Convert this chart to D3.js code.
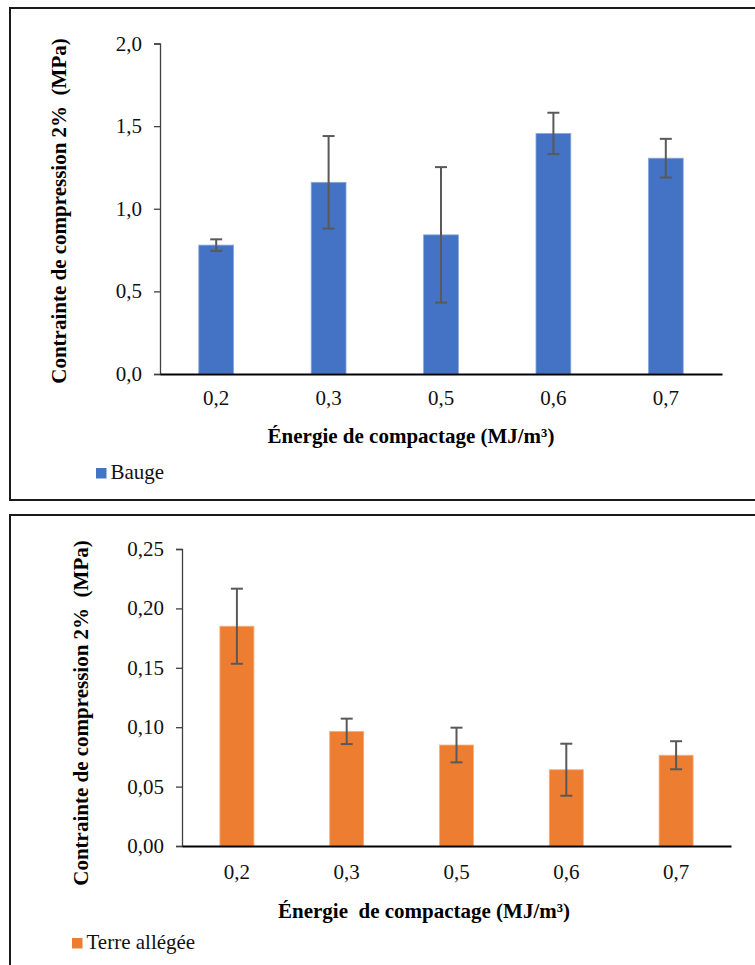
<!DOCTYPE html>
<html>
<head>
<meta charset="utf-8">
<script src="https://cdn.jsdelivr.net/npm/d3@7"></script>
<style>
  html, body { margin: 0; padding: 0; background: #fff; }
  svg { display: block; }
</style>
</head>
<body>
<svg id="chart" width="755" height="965"></svg>
<script>
// ---- Data ----
const categories = ["0,2", "0,3", "0,5", "0,6", "0,7"];
const baugeValues = [0.78, 1.16, 0.842, 1.456, 1.306];
const baugeErrors = [0.035, 0.28, 0.41, 0.125, 0.117];
const terreValues = [0.185, 0.0965, 0.085, 0.0642, 0.0764];
const terreErrors = [0.0316, 0.0107, 0.0146, 0.0219, 0.0118];
const baugeTicks = [0, 0.5, 1.0, 1.5, 2.0];
const terreTicks = [0, 0.05, 0.10, 0.15, 0.20, 0.25];
const yTitle = "Contrainte de compression 2%\u00A0 (MPa)";
const xTitleTop = "Énergie de compactage (MJ/m³)";
const xTitleBottom = "Énergie\u00A0 de compactage (MJ/m³)";

const FONT = "Liberation Serif";
const svg = d3.select("#chart");

function drawPanel(cfg) {
  // frame
  svg.append("rect")
    .attr("x", cfg.frame[0]).attr("y", cfg.frame[1])
    .attr("width", cfg.frame[2]).attr("height", cfg.frame[3])
    .attr("fill", "#fff").attr("stroke", "#1a1a1a").attr("stroke-width", 2);

  const x = d3.scaleBand().domain(categories)
    .range([cfg.left, cfg.right]).paddingInner(0.69).paddingOuter(0.345);
  const y = d3.scaleLinear().domain([0, cfg.ticks[cfg.ticks.length - 1]])
    .range([cfg.zero, cfg.top]);
  const fmt = d => d3.format(cfg.fmt)(d).replace(".", ",");

  // y axis (lines via d3 axis, labels as direct svg text)
  const ya = svg.append("g").attr("transform", `translate(${cfg.left},0)`)
    .call(d3.axisLeft(y).tickValues(cfg.ticks).tickSize(6).tickSizeOuter(6)
      .tickFormat(""));
  ya.select(".domain").attr("stroke", "#404040").attr("stroke-width", 1.3);
  ya.selectAll(".tick line").attr("stroke", "#404040").attr("stroke-width", 1.3);
  ya.selectAll(".tick text").remove();

  svg.selectAll(null).data(cfg.ticks).enter().append("text")
    .attr("x", cfg.left - 18)
    .attr("y", d => y(d) + 7)
    .attr("text-anchor", "end")
    .attr("font-family", FONT).attr("font-size", 21).attr("fill", "#111")
    .text(fmt);

  // bars
  svg.selectAll(null).data(cfg.values).enter().append("rect")
    .attr("x", (d, i) => x(categories[i]))
    .attr("width", x.bandwidth())
    .attr("y", d => y(d))
    .attr("height", d => y(0) - y(d))
    .attr("fill", cfg.color)
    .attr("stroke", cfg.edge).attr("stroke-width", 0.8);

  // error bars
  const cap = 6;
  const cx = i => x(categories[i]) + x.bandwidth() / 2;
  svg.selectAll(null).data(cfg.values).enter().append("line")
    .attr("stroke", "#595959").attr("stroke-width", 2)
    .attr("x1", (d, i) => cx(i)).attr("x2", (d, i) => cx(i))
    .attr("y1", (d, i) => y(d + cfg.errors[i]))
    .attr("y2", (d, i) => y(d - cfg.errors[i]));
  [1, -1].forEach(s => {
    svg.selectAll(null).data(cfg.values).enter().append("line")
      .attr("stroke", "#595959").attr("stroke-width", 2)
      .attr("x1", (d, i) => cx(i) - cap).attr("x2", (d, i) => cx(i) + cap)
      .attr("y1", (d, i) => y(d + s * cfg.errors[i]))
      .attr("y2", (d, i) => y(d + s * cfg.errors[i]));
  });

  // x axis line
  const xa = svg.append("g").attr("transform", `translate(0,${cfg.zero})`)
    .call(d3.axisBottom(x).tickSize(0).tickSizeOuter(0).tickFormat(""));
  xa.select(".domain").attr("stroke", "#000").attr("stroke-width", 2.2);
  xa.selectAll(".tick text").remove();

  svg.selectAll(null).data(categories).enter().append("text")
    .attr("x", d => x(d) + x.bandwidth() / 2)
    .attr("y", cfg.xLabelY)
    .attr("text-anchor", "middle")
    .attr("font-family", FONT).attr("font-size", 21).attr("fill", "#111")
    .text(d => d);

  // x title
  svg.append("text").attr("x", cfg.xTitlePos[0]).attr("y", cfg.xTitlePos[1])
    .attr("text-anchor", "middle").attr("font-size", 21).attr("font-weight", "bold")
    .attr("fill", "#000").attr("font-family", FONT)
    .text(cfg.xTitle);

  // y title
  svg.append("text")
    .attr("transform", `translate(${cfg.yTitlePos[0]},${cfg.yTitlePos[1]}) rotate(-90)`)
    .attr("text-anchor", "middle").attr("font-size", 21).attr("font-weight", "bold")
    .attr("fill", "#000").attr("font-family", FONT)
    .text(yTitle);

  // legend
  svg.append("rect").attr("x", cfg.legend[0]).attr("y", cfg.legend[1])
    .attr("width", 10.5).attr("height", 10.5).attr("fill", cfg.color);
  svg.append("text").attr("x", cfg.legend[0] + 14.5).attr("y", cfg.legend[1] + 11)
    .attr("font-size", 21).attr("fill", "#111").attr("font-family", FONT)
    .text(cfg.legendLabel);
}

drawPanel({
  frame: [10, 8, 760, 492],
  left: 160, right: 722, zero: 374, top: 43.5,
  ticks: baugeTicks, fmt: ".1f",
  values: baugeValues, errors: baugeErrors,
  color: "#4472C4", edge: "#8EA9DB",
  xLabelY: 405,
  xTitle: xTitleTop, xTitlePos: [411, 443],
  yTitlePos: [66, 211],
  legend: [96, 468], legendLabel: "Bauge"
});

drawPanel({
  frame: [10, 515, 760, 470],
  left: 182, right: 731, zero: 846, top: 549,
  ticks: terreTicks, fmt: ".2f",
  values: terreValues, errors: terreErrors,
  color: "#ED7D31", edge: "#F4B183",
  xLabelY: 879,
  xTitle: xTitleBottom, xTitlePos: [424, 918],
  yTitlePos: [88, 713],
  legend: [72, 938], legendLabel: "Terre allégée"
});
</script>
</body>
</html>
